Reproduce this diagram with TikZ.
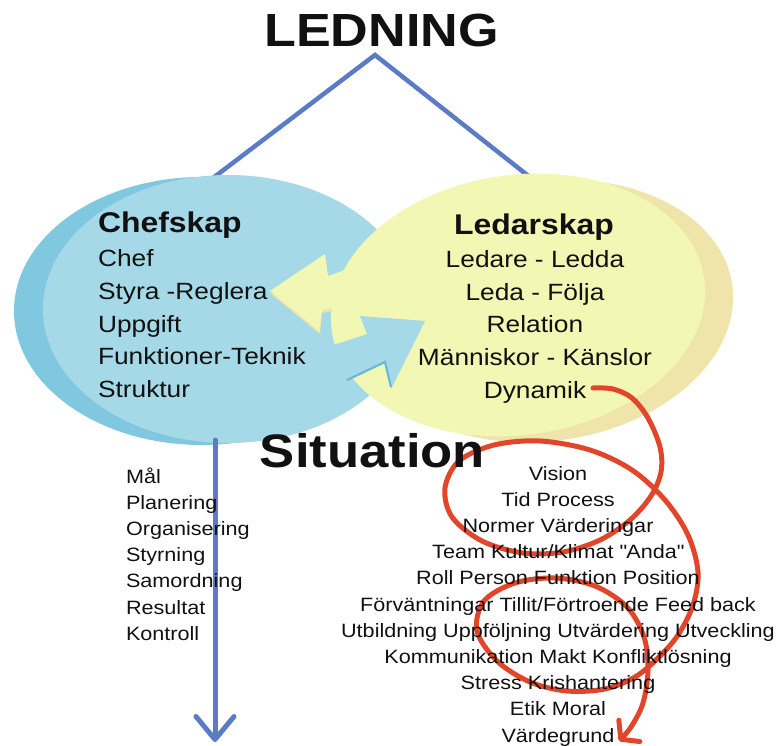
\documentclass[tikz,border=0pt]{standalone}
\usepackage{fontspec}
\setmainfont{Liberation Sans}[FakeStretch=1.12]
\usetikzlibrary{arrows.meta}
\definecolor{lineblue}{RGB}{91,123,198}
\definecolor{bluemain}{RGB}{166,217,232}
\definecolor{blueshade}{RGB}{128,200,223}
\definecolor{bluedark}{RGB}{108,184,216}
\definecolor{yelmain}{RGB}{243,247,180}
\definecolor{yelshade}{RGB}{239,228,170}
\definecolor{redline}{RGB}{226,70,42}
\definecolor{ink}{RGB}{17,17,17}
\newcommand{\straightdq}{\XeTeXglyph\XeTeXglyphindex "quotedbl" \relax}
\begin{document}
\begin{tikzpicture}[x=1pt,y=-1pt,
  every node/.style={inner sep=0pt, outer sep=0pt, text=ink},
  bigtitle/.style={font=\fontsize{46.5}{50}\bfseries\selectfont},
  sittitle/.style={font=\fontsize{47}{50}\bfseries\selectfont},
  boxtitle/.style={font=\fontsize{28.5}{32}\bfseries\selectfont},
  boxitem/.style={font=\fontsize{23.5}{28}\selectfont},
  listitem/.style={font=\fontsize{19.3}{23}\selectfont},
  apexline/.style={draw=lineblue, line width=4.5, line cap=round},
  downarrow/.style={draw=lineblue, line width=5, line cap=round,
    -{Straight Barb[length=23pt,width=38pt,line cap=round,line join=round]}},
  spiral/.style={draw=redline, line width=5, line cap=round,
    -{Straight Barb[length=12pt,width=30pt,line cap=round,line join=round]}}]
\useasboundingbox (0,0) rectangle (777,746);

% connector coordinates
\coordinate (apex) at (375,55);
\coordinate (chefTop) at (213,178);
\coordinate (ledTop) at (531,178);
\coordinate (chefBottom) at (215,440);
\coordinate (downEnd) at (215,742);

% lines from LEDNING
\draw[apexline] (chefTop) -- (apex) -- (ledTop);

% Chefskap ellipse
\fill[blueshade] (202,311) ellipse [x radius=188, y radius=134];
\fill[bluemain] (228,309) ellipse [x radius=185, y radius=134];

% Ledarskap ellipse
\fill[yelshade, rotate around={8:(546,311)}] (546,311) ellipse [x radius=188, y radius=130];
\fill[yelmain, rotate around={8:(518,305)}] (518,305) ellipse [x radius=188, y radius=130];

% exchange arrows
\fill[yelshade] (270,293) -- (320,334) -- (322,313) -- (333,311) -- (333,306) -- (322,308) -- cycle;
\fill[yelmain] (270,291) -- (325,254) -- (328,276) -- (345,270) -- (420,280) -- (420,330)
  -- (367,334) -- (340,343) -- (331,308) -- (322,310) -- (319,331) -- cycle;
\fill[bluemain] (360,316) -- (425,321) -- (391,389) -- (385,362) -- (347,380)
  -- (315,372) -- (325,346) -- (340,343) -- (367,334) -- cycle;
\draw[bluedark, line width=2.2] (347,380) -- (385,362) -- (391,387);

% down arrow
\draw[downarrow] (chefBottom) -- (downEnd);

% red spiral
\draw[spiral] plot[smooth, tension=0.55] coordinates {
  (593,388) (613,389) (632,398) (648,418) (660,447) (661,472) (651,496) (630,520)
  (600,540) (563,552) (523,553) (482,541) (452,517) (445,488) (459,461)
  (494,445) (540,441) (590,450) (632,470) (665,500) (688,535) (698,572)
  (693,605) (678,635) (658,658) (635,677) (605,689) (567,691) (530,682)
  (497,661) (477,631) (484,601) (515,583) (555,578) (595,586) (627,607)
  (644,637) (648,670) (643,703) (631,727) (619,741)};

% titles
\node[bigtitle, anchor=base] (ledning) at (381.5,47) {LEDNING};
\node[sittitle, anchor=base] (situation) at (372.5,467) {Situation};

% Chefskap text
\node[boxtitle, anchor=base west] (chefskap) at (98,233) {Chefskap};
\foreach \t [count=\i] in {Chef, Styra -Reglera, Uppgift, Funktioner-Teknik, Struktur}
  \node[boxitem, anchor=base west] (chef\i) at (98,{267+(\i-1)*32.5}) {\t};

% Ledarskap text
\node[boxtitle, anchor=base] (ledarskap) at (534,235) {Ledarskap};
\foreach \t [count=\i] in {Ledare - Ledda, Leda - Följa, Relation, Människor - Känslor, Dynamik}
  \node[boxitem, anchor=base] (led\i) at (535,{268+(\i-1)*32.5}) {\t};

% left list
\foreach \t [count=\i] in {Mål, Planering, Organisering, Styrning, Samordning, Resultat, Kontroll}
  \node[listitem, anchor=base west] (chefList\i) at (126,{483.5+(\i-1)*26.1}) {\t};

% right list
\foreach \t [count=\i] in {Vision, Tid Process, Normer Värderingar, Team Kultur/Klimat \straightdq Anda\straightdq,
  Roll Person Funktion Position, Förväntningar Tillit/Förtroende Feed back,
  Utbildning Uppföljning Utvärdering Utveckling, Kommunikation Makt Konfliktlösning,
  Stress Krishantering, Etik Moral, Värdegrund}
  \node[listitem, anchor=base] (sitList\i) at (558,{480+(\i-1)*26.2}) {\t};
\end{tikzpicture}
\end{document}
